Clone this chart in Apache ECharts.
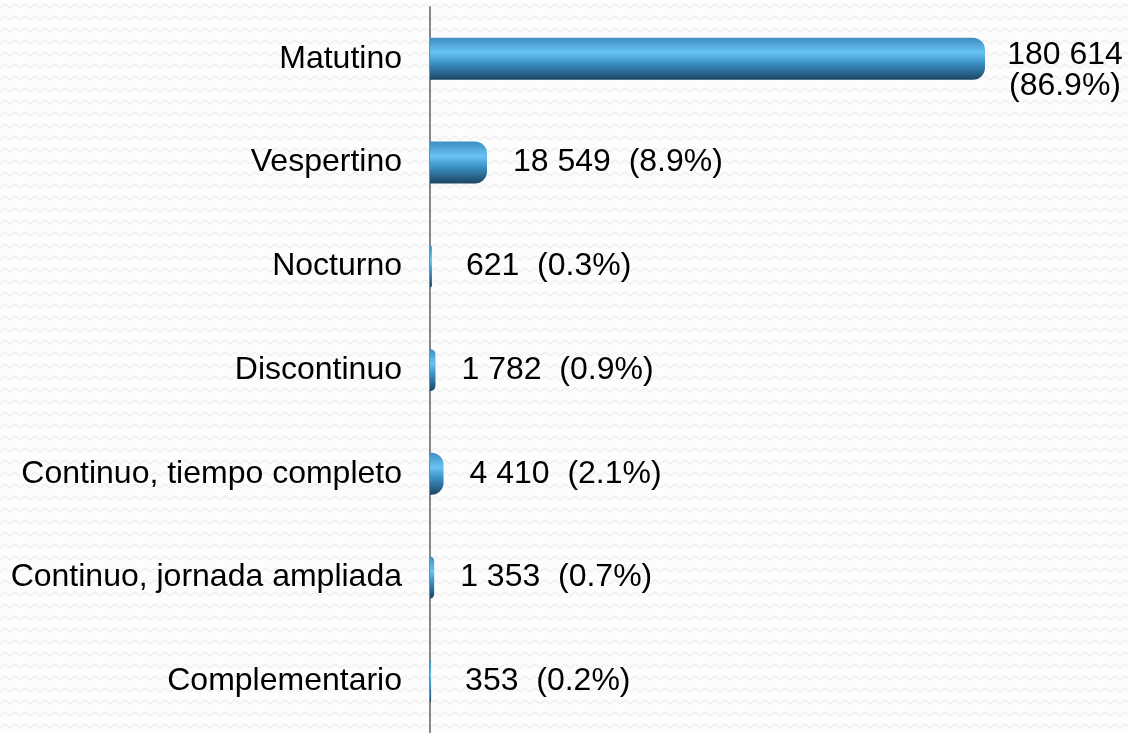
<!DOCTYPE html>
<html>
<head>
<meta charset="utf-8">
<script src="https://cdn.jsdelivr.net/npm/echarts@6/dist/echarts.min.js"></script>
<style>
  html, body { margin: 0; padding: 0; background: #fdfdfd; }
  #chart { width: 1128px; height: 733px; }
</style>
</head>
<body>
<div id="chart"></div>
<script>
// turnos, de arriba hacia abajo
const categories = [
  'Matutino',
  'Vespertino',
  'Nocturno',
  'Discontinuo',
  'Continuo, tiempo completo',
  'Continuo, jornada ampliada',
  'Complementario'
];
const values = [180614, 18549, 621, 1782, 4410, 1353, 353];
const percents = [86.9, 8.9, 0.3, 0.9, 2.1, 0.7, 0.2];

// "180614" -> "180 614"
function fmt(n) {
  return String(n).replace(/\B(?=(\d{3})+(?!\d))/g, ' ');
}

// faint zigzag background like the original slide
function zigzag() {
  const c = document.createElement('canvas');
  c.width = 10; c.height = 12;
  const ctx = c.getContext('2d');
  ctx.fillStyle = '#fdfdfd';
  ctx.fillRect(0, 0, 10, 12);
  ctx.strokeStyle = '#efefef';
  ctx.lineWidth = 1.5;
  ctx.beginPath();
  ctx.moveTo(0, 8); ctx.lineTo(5, 4); ctx.lineTo(10, 8);
  ctx.stroke();
  return c;
}

const barColor = new echarts.graphic.LinearGradient(0, 0, 0, 1, [
  { offset: 0, color: '#3f8ec2' },
  { offset: 0.35, color: '#67c3f3' },
  { offset: 0.6, color: '#3b91c6' },
  { offset: 1, color: '#1c4562' }
]);

const font = '"Liberation Sans", Arial, sans-serif';

const seriesData = values.map((v, i) => {
  const item = { value: v };
  if (i === 0) {
    // the big bar gets its label on two lines
    item.label = {
      formatter: () => fmt(v) + '\n(' + percents[i].toFixed(1) + '%)',
      align: 'center',
      distance: 80,
      lineHeight: 31,
      offset: [0, 12]
    };
  } else if (v < 1000) {
    // three-digit labels sit a bit further out in the original
    item.label = { distance: 34 };
  }
  return item;
});

var myChart = echarts.init(document.getElementById('chart'));

var option = {
  backgroundColor: { image: zigzag(), repeat: 'repeat' },
  animation: false,
  grid: {
    left: 430,
    right: 143,
    top: 7,
    bottom: 0,
    containLabel: false
  },
  xAxis: {
    type: 'value',
    min: 0,
    max: 'dataMax',
    show: false
  },
  yAxis: {
    type: 'category',
    inverse: true,
    data: categories,
    axisLine: { show: true, lineStyle: { color: '#888888', width: 2 } },
    axisTick: { show: false },
    axisLabel: {
      color: '#000',
      fontSize: 32,
      fontFamily: font,
      margin: 28,
      padding: [4, 0, 0, 0]
    }
  },
  series: [
    {
      type: 'bar',
      barWidth: 42,
      data: seriesData,
      itemStyle: {
        color: barColor,
        borderRadius: [0, 12, 12, 0]
      },
      label: {
        show: true,
        position: 'right',
        distance: 26,
        color: '#000',
        fontSize: 32,
        fontFamily: font,
        formatter: p => fmt(values[p.dataIndex]) + '  (' + percents[p.dataIndex].toFixed(1) + '%)'
      }
    }
  ]
};

myChart.setOption(option);

window.addEventListener('resize', function () {
  myChart.resize();
});
</script>
</body>
</html>
